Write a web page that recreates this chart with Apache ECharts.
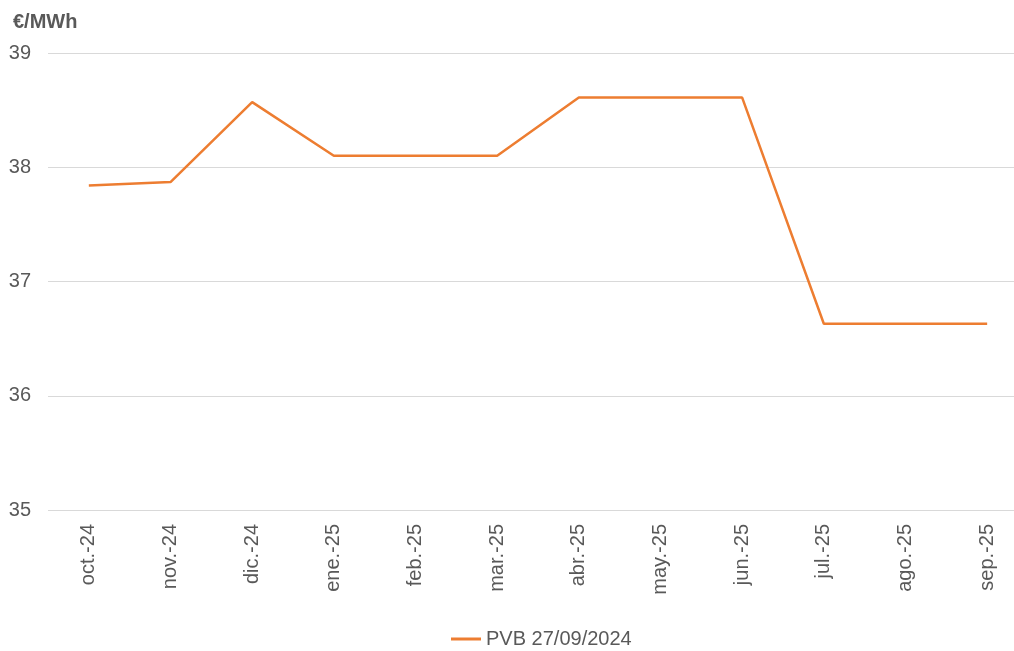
<!DOCTYPE html>
<html>
<head>
<meta charset="utf-8">
<script src="https://cdn.jsdelivr.net/npm/echarts@6/dist/echarts.min.js"></script>
<style>
  html, body { margin: 0; padding: 0; background: #fff; overflow: hidden; }
  /* plot runs past the right edge of the window, like the reference */
  #chart { width: 1028px; height: 651px; }
</style>
</head>
<body>
<div id="chart"></div>
<script>
const months = ["oct.-24", "nov.-24", "dic.-24", "ene.-25", "feb.-25", "mar.-25",
  "abr.-25", "may.-25", "jun.-25", "jul.-25", "ago.-25", "sep.-25"];
const pvbValues = [37.84, 37.87, 38.57, 38.10, 38.10, 38.10,
  38.61, 38.61, 38.61, 36.63, 36.63, 36.63];
const seriesName = "PVB 27/09/2024";
const unitLabel = "€/MWh";

const chart = echarts.init(document.getElementById("chart"));
const textColor = "#595959";
const font = "Liberation Sans, Arial, sans-serif";

const option = {
  animation: false,
  title: {
    text: unitLabel,
    left: 8,
    top: 7,
    textStyle: {
      color: textColor,
      fontFamily: font,
      fontWeight: "bold",
      fontSize: 20,
    },
  },
  legend: {
    bottom: -3,
    left: 446,
    icon: "path://M0,0 L30,0 L30,3 L0,3 Z",
    itemWidth: 30,
    itemHeight: 3,
    itemGap: 6,
    textStyle: {
      color: textColor,
      fontFamily: font,
      fontSize: 20,
    },
    data: [seriesName],
  },
  grid: {
    left: 48,
    top: 53,
    right: 0,
    bottom: 141,
    containLabel: false,
  },
  xAxis: {
    type: "category",
    boundaryGap: true,
    data: months,
    axisLine: { show: false },
    axisTick: { show: false },
    axisLabel: {
      rotate: 90,
      margin: 14,
      color: textColor,
      fontFamily: font,
      fontSize: 20,
    },
  },
  yAxis: {
    type: "value",
    min: 35,
    max: 39,
    interval: 1,
    axisLine: { show: false },
    axisTick: { show: false },
    axisLabel: {
      margin: 17,
      color: textColor,
      fontFamily: font,
      fontSize: 20,
    },
    splitLine: {
      lineStyle: { color: "#d9d9d9", width: 1 },
    },
  },
  series: [
    {
      name: seriesName,
      type: "line",
      data: pvbValues,
      symbol: "none",
      lineStyle: { color: "#ED7D31", width: 2.5 },
      itemStyle: { color: "#ED7D31" },
    },
  ],
};

chart.setOption(option);
</script>
</body>
</html>
